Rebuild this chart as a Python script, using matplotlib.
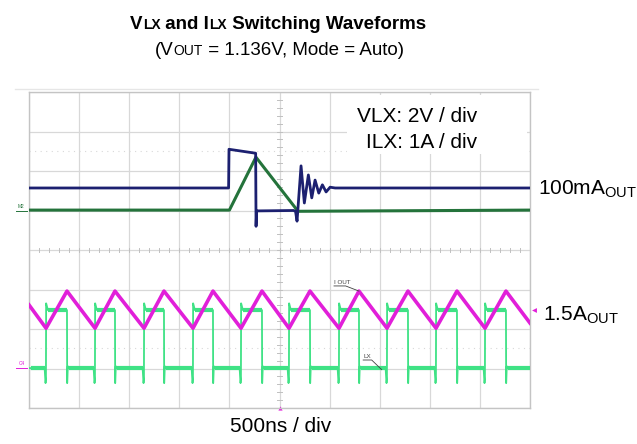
import matplotlib
matplotlib.use("Agg")
import matplotlib.pyplot as plt
from matplotlib.patches import Rectangle
import numpy as np

plt.rcParams['font.family'] = ['Liberation Sans', 'DejaVu Sans']
plt.rcParams['mathtext.fontset'] = 'custom'
plt.rcParams['mathtext.rm'] = 'Liberation Sans'
plt.rcParams['mathtext.it'] = 'Liberation Sans:italic'
plt.rcParams['mathtext.bf'] = 'Liberation Sans:bold'

# ---------------- data (time in ns, amplitude in screen divisions) ----------------
# 100 mA load: VLX (blue) and ILX (dark green)
vlx_time = [0, 1992, 1996, 2262, 2266, 2272, 2285, 2640, 2660, 2675, 2715, 2748,
            2788, 2822, 2855, 2892, 2928, 2965, 3005, 3055, 5000]
vlx_div = [5.57, 5.57, 6.55, 6.45, 4.60, 4.99, 4.99, 5.00, 4.98, 4.73, 6.13, 5.19,
           5.90, 5.32, 5.77, 5.44, 5.65, 5.47, 5.59, 5.57, 5.57]
ilx_lo_time = [0, 2000, 2265, 2685, 5000]
ilx_lo_div = [5.01, 5.01, 6.35, 4.98, 5.01]

# 1.5 A load: ILX (magenta) triangle, LX (light green) switch node
ilx_hi_time = [0, 170, 379, 659, 858, 1148, 1347, 1637, 1836, 2116, 2325, 2595,
               2804, 3094, 3293, 3573, 3782, 4062, 4271, 4551, 4760, 5000]
ilx_hi_div = [2.61, 2.02, 2.96, 2.02, 2.96, 2.02, 2.96, 2.02, 2.96, 2.02, 2.96, 2.02,
              2.96, 2.02, 2.96, 2.02, 2.96, 2.02, 2.96, 2.02, 2.96, 2.15]
lx_rise_ns = [170, 659, 1148, 1637, 2116, 2595, 3094, 3573, 4062, 4551]
lx_fall_ns = [379, 858, 1347, 1836, 2325, 2804, 3293, 3782, 4271, 4760]
lx_high_div = 2.48
lx_low_div = 1.01
lx_overshoot_div = 2.65
lx_dip_div = 0.63

t_end = 5000
n_xdiv, n_ydiv = 10, 8

# ---------------- figure ----------------
W, H = 637, 444
fig = plt.figure(figsize=(W / 100, H / 100), dpi=100)
fig.patch.set_facecolor('white')
L, R, T, B = 29, 530, 92, 408
ax = fig.add_axes([L / W, 1 - B / H, (R - L) / W, (B - T) / H])
ax.set_xlim(0, t_end)
ax.set_ylim(0, n_ydiv)
ax.set_xticks(np.linspace(0, t_end, n_xdiv + 1))
ax.set_yticks(np.arange(0, n_ydiv + 1))
ax.tick_params(length=0, labelbottom=False, labelleft=False)
ax.grid(True, color='#d8d8d8', lw=0.9)
for s in ax.spines.values():
    s.set_color('#c4c4c4')
    s.set_linewidth(1.0)

# faint dotted lines
ax.axhline(6.5, color='#d8d8d8', lw=0.8, ls=(0, (1, 4)))
ax.axhline(1.52, color='#d8d8d8', lw=0.8, ls=(0, (1, 4)))

# center-line minor ticks
for yy in np.arange(0, n_ydiv + 0.01, 0.2):
    ax.plot([t_end / 2 - 20, t_end / 2 + 20], [yy, yy], color='#c0c0c0', lw=0.7)
for xx in np.arange(0, t_end + 1, 100):
    ax.plot([xx, xx], [n_ydiv / 2 - 0.05, n_ydiv / 2 + 0.05], color='#c0c0c0', lw=0.7)

# white box with scale text
ax.add_patch(Rectangle((3170, 6.42), 1800, 1.50, facecolor='white', edgecolor='none', zorder=2.5))
fig.text(477 / W, 1 - 122 / H, 'VLX: 2V / div', ha='right', va='baseline', fontsize=15)
fig.text(477 / W, 1 - 148 / H, 'ILX: 1A / div', ha='right', va='baseline', fontsize=15)

# traces
ax.plot(ilx_lo_time, ilx_lo_div, color='#24733b', lw=2.2, zorder=3)
ax.plot(vlx_time, vlx_div, color='#1c2070', lw=2.0, zorder=4)

lx_t, lx_v = [0], [lx_low_div]
flat_t, flat_v = [], []
prev = 0
for r, f in zip(lx_rise_ns, lx_fall_ns):
    lx_t += [r - 14, r - 5, r - 1, r + 1, r + 18, f, f + 2, f + 8, f + 16]
    lx_v += [lx_low_div, lx_dip_div, lx_dip_div + 0.1, lx_overshoot_div, lx_high_div,
             lx_high_div, lx_dip_div, lx_low_div + 0.05, lx_low_div]
    flat_t.append([prev + 16, r - 14]); flat_v.append([lx_low_div, lx_low_div])
    flat_t.append([r + 18, f]); flat_v.append([lx_high_div, lx_high_div])
    prev = f
lx_t.append(t_end); lx_v.append(lx_low_div)
flat_t.append([prev + 16, t_end]); flat_v.append([lx_low_div, lx_low_div])
ax.plot(lx_t, lx_v, color='#3fe285', lw=1.3, zorder=3)
for ft, fv in zip(flat_t, flat_v):
    ax.plot(ft, fv, color='#3fe285', lw=3.0, zorder=3, solid_capstyle='butt')
ax.plot(ilx_hi_time, ilx_hi_div, color='#e11fd9', lw=2.6, zorder=4)

# probe labels
ax.text(3044, 3.12, 'I OUT', fontsize=4.5, color='#404040', ha='left', va='bottom', zorder=5)
ax.plot([3044, 3160, ilx_hi_time[14]], [3.09, 3.09, ilx_hi_div[14]], color='#404040', lw=0.6, zorder=5)
ax.text(3335, 1.24, 'LX', fontsize=4.5, color='#404040', ha='left', va='bottom', zorder=5)
ax.plot([3335, 3420, 3520], [1.215, 1.215, 0.97], color='#404040', lw=0.6, zorder=5)

# channel markers
ax.text(-75, 5.05, 'M2', fontsize=3.5, color='#24733b', ha='center', va='bottom', clip_on=False)
ax.plot([-130, -20], [5.0, 5.0], color='#24733b', lw=0.7, clip_on=False)
ax.text(-75, 1.06, 'C4', fontsize=3.5, color='#e11fd9', ha='center', va='bottom', clip_on=False)
ax.plot([-130, -20], [1.02, 1.02], color='#e11fd9', lw=0.7, clip_on=False)
ax.plot([t_end + 35], [lx_high_div], marker='<', ms=3.5, color='#e11fd9', clip_on=False, mec='none')
ax.plot([t_end / 2], [0.0], marker='^', ms=3, color='#e11fd9', clip_on=False, mec='none')

# faint line above screen
fig.add_artist(plt.Line2D([15 / W, 538 / W], [1 - 89 / H, 1 - 89 / H], color='#e6e6e6', lw=1.0))


# ---------------- rich text helpers ----------------
renderer = fig.canvas.get_renderer()


def rich_line(xc, y_base, pieces):
    texts = []
    total = 0
    for s, size, weight, dy in pieces:
        t = fig.text(0, 1 - (y_base - dy) / H, s, fontsize=size, fontweight=weight,
                     ha='left', va='baseline')
        w = t.get_window_extent(renderer).width
        texts.append((t, w, dy))
        total += w
    x = xc - total / 2
    for t, w, dy in texts:
        t.set_x(x / W)
        x += w


rich_line(278, 29, [('V', 13.5, 'bold', 0), ('LX', 10, 'bold', 0),
                    (' and I', 13.5, 'bold', 0), ('LX', 10, 'bold', 0),
                    (' Switching Waveforms', 13.5, 'bold', 0)])
rich_line(279, 55, [('(V', 13.5, 'normal', 0), ('OUT', 10, 'normal', 0),
                    (' = 1.136V, Mode = Auto)', 13.5, 'normal', 0)])

fig.text(538 / W, 1 - 195 / H, r'100mA$_{\mathrm{OUT}}$', fontsize=15, ha='left', va='baseline')
fig.text(543 / W, 1 - 321 / H, r'1.5A$_{\mathrm{OUT}}$', fontsize=15, ha='left', va='baseline')
fig.text(281 / W, 1 - 432 / H, '500ns / div', fontsize=15, ha='center', va='baseline')

fig.savefig('out.png', dpi=100, facecolor='white')
